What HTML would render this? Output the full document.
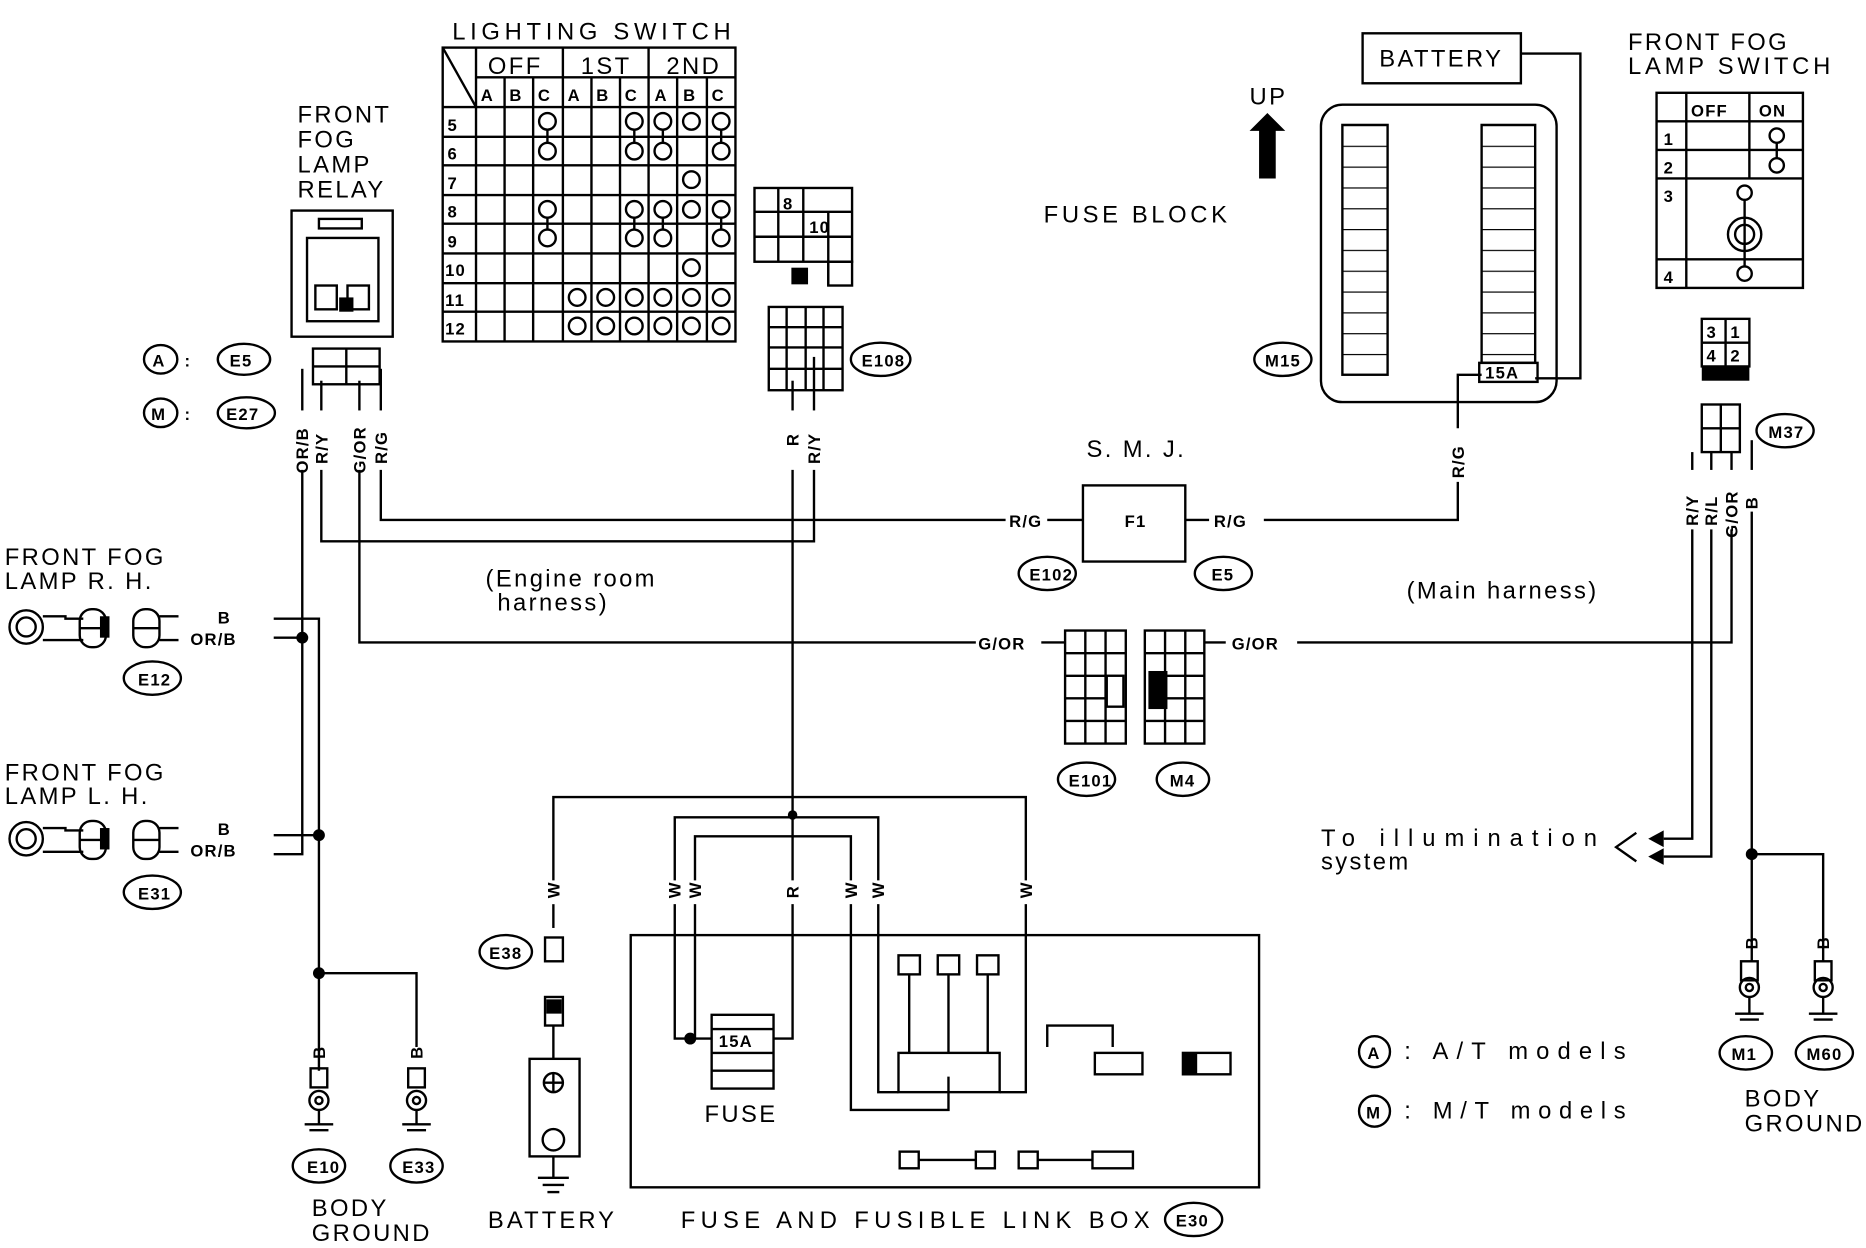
<!DOCTYPE html>
<html><head><meta charset="utf-8"><style>
html,body{margin:0;padding:0;background:#fff;}
svg{display:block}
text{font-family:"Liberation Sans",sans-serif;fill:#000;}
.t{font-size:20px;letter-spacing:2px;}
.s{font-size:14px;letter-spacing:1px;font-weight:bold;}
</style></head><body>
<svg width="1866" height="1248" viewBox="0 0 1568 1049" preserveAspectRatio="none" xmlns="http://www.w3.org/2000/svg">
<defs>
<pattern id="slots" x="0" y="105" width="10" height="17.5" patternUnits="userSpaceOnUse"><line x1="0" y1="0" x2="10" y2="0" stroke="#000" stroke-width="2"/></pattern>
</defs>
<g fill="none" stroke="#000" stroke-width="2">
<!-- Lighting switch table -->
<rect x="372" y="40" width="246" height="247"/>
<line x1="400" y1="40" x2="400" y2="287"/>
<line x1="400" y1="65" x2="618" y2="65"/>
<line x1="372" y1="90" x2="618" y2="90"/>
<line x1="372" y1="40" x2="400" y2="90"/>
<line x1="473" y1="40" x2="473" y2="287"/><line x1="545" y1="40" x2="545" y2="287"/>
<line x1="424" y1="65" x2="424" y2="287"/><line x1="448" y1="65" x2="448" y2="287"/>
<line x1="497" y1="65" x2="497" y2="287"/><line x1="521" y1="65" x2="521" y2="287"/>
<line x1="569" y1="65" x2="569" y2="287"/><line x1="594" y1="65" x2="594" y2="287"/>
<line x1="372" y1="115" x2="618" y2="115"/><line x1="372" y1="139" x2="618" y2="139"/>
<line x1="372" y1="164" x2="618" y2="164"/><line x1="372" y1="188" x2="618" y2="188"/>
<line x1="372" y1="213" x2="618" y2="213"/><line x1="372" y1="238" x2="618" y2="238"/>
<line x1="372" y1="262" x2="618" y2="262"/>
<g>
<circle cx="460" cy="102" r="7"/><circle cx="533" cy="102" r="7"/><circle cx="557" cy="102" r="7"/><circle cx="581" cy="102" r="7"/><circle cx="606" cy="102" r="7"/>
<circle cx="460" cy="127" r="7"/><circle cx="533" cy="127" r="7"/><circle cx="557" cy="127" r="7"/><circle cx="606" cy="127" r="7"/>
<line x1="460" y1="109" x2="460" y2="120"/><line x1="533" y1="109" x2="533" y2="120"/><line x1="557" y1="109" x2="557" y2="120"/><line x1="606" y1="109" x2="606" y2="120"/>
<circle cx="581" cy="151" r="7"/>
<circle cx="460" cy="176" r="7"/><circle cx="533" cy="176" r="7"/><circle cx="557" cy="176" r="7"/><circle cx="581" cy="176" r="7"/><circle cx="606" cy="176" r="7"/>
<circle cx="460" cy="200" r="7"/><circle cx="533" cy="200" r="7"/><circle cx="557" cy="200" r="7"/><circle cx="606" cy="200" r="7"/>
<line x1="460" y1="183" x2="460" y2="193"/><line x1="533" y1="183" x2="533" y2="193"/><line x1="557" y1="183" x2="557" y2="193"/><line x1="606" y1="183" x2="606" y2="193"/>
<circle cx="581" cy="225" r="7"/>
<circle cx="485" cy="250" r="7"/><circle cx="509" cy="250" r="7"/><circle cx="533" cy="250" r="7"/><circle cx="557" cy="250" r="7"/><circle cx="581" cy="250" r="7"/><circle cx="606" cy="250" r="7"/>
<circle cx="485" cy="274" r="7"/><circle cx="509" cy="274" r="7"/><circle cx="533" cy="274" r="7"/><circle cx="557" cy="274" r="7"/><circle cx="581" cy="274" r="7"/><circle cx="606" cy="274" r="7"/>
</g>
<!-- relay -->
<rect x="245" y="177" width="85" height="106"/>
<rect x="268" y="184" width="36" height="8"/>
<rect x="258" y="200" width="60" height="70"/>
<rect x="265" y="240" width="18" height="20"/><rect x="292" y="240" width="18" height="20"/>
<rect x="263" y="293" width="56" height="30"/>
<line x1="291" y1="293" x2="291" y2="323"/><line x1="263" y1="308" x2="319" y2="308"/>
<line x1="254" y1="310" x2="254" y2="345"/><line x1="270" y1="320" x2="270" y2="345"/>
<line x1="302" y1="320" x2="302" y2="345"/><line x1="320" y1="310" x2="320" y2="345"/>
<!-- connector 8/10 -->
<rect x="634" y="158" width="82" height="62"/>
<line x1="634" y1="178" x2="716" y2="178"/><line x1="634" y1="199" x2="716" y2="199"/>
<line x1="654" y1="158" x2="654" y2="220"/><line x1="675" y1="158" x2="675" y2="220"/><line x1="696" y1="178" x2="696" y2="240"/>
<rect x="696" y="220" width="20" height="20"/>
<rect x="646" y="258" width="62" height="70"/>
<line x1="646" y1="275" x2="708" y2="275"/><line x1="646" y1="292" x2="708" y2="292"/><line x1="646" y1="310" x2="708" y2="310"/>
<line x1="661" y1="258" x2="661" y2="328"/><line x1="677" y1="258" x2="677" y2="328"/><line x1="692" y1="258" x2="692" y2="328"/>
<line x1="666" y1="320" x2="666" y2="345"/><line x1="684" y1="300" x2="684" y2="345"/>
<!-- wires -->
<polyline points="320,395 320,437 845,437"/>
<polyline points="880,437 910,437"/>
<rect x="910" y="408" width="86" height="64"/>
<polyline points="996,437 1016,437"/>
<polyline points="1062,437 1225,437 1225,405"/>
<polyline points="1225,360 1225,315 1245,315"/>
<polyline points="270,395 270,455 684,455 684,395"/>
<polyline points="666,395 666,685"/>
<polyline points="302,395 302,540 820,540"/>
<polyline points="875,540 895,540"/>
<rect x="895" y="530" width="51" height="95"/><rect x="930" y="568" width="14" height="26"/>
<line x1="895" y1="549" x2="946" y2="549"/><line x1="895" y1="568" x2="930" y2="568"/><line x1="895" y1="587" x2="930" y2="587"/><line x1="895" y1="606" x2="946" y2="606"/>
<line x1="912" y1="530" x2="912" y2="625"/><line x1="929" y1="530" x2="929" y2="625"/>
<rect x="962" y="530" width="50" height="95"/><rect x="966" y="565" width="14" height="30" fill="#000"/>
<line x1="962" y1="549" x2="1012" y2="549"/><line x1="980" y1="568" x2="1012" y2="568"/><line x1="980" y1="587" x2="1012" y2="587"/><line x1="962" y1="606" x2="1012" y2="606"/>
<line x1="979" y1="530" x2="979" y2="625"/><line x1="996" y1="530" x2="996" y2="625"/>
<polyline points="1012,540 1030,540"/>
<polyline points="1090,540 1455,540 1455,445"/>
<polyline points="254,395 254,718 230,718"/>
<polyline points="230,536 254,536"/>
<polyline points="230,520 268,520 268,900"/>
<polyline points="230,702 268,702"/>
<polyline points="268,818 350,818 350,880"/>
<!-- fog lamps -->
<circle cx="22" cy="527" r="14"/><circle cx="22" cy="527" r="8"/>
<polyline points="36,518 55,518 55,520 70,520"/><line x1="36" y1="538" x2="70" y2="538"/>
<rect x="67" y="512" width="22" height="32" rx="10"/><line x1="67" y1="528" x2="89" y2="528"/>
<rect x="112" y="512" width="22" height="32" rx="10"/><line x1="112" y1="528" x2="134" y2="528"/>
<circle cx="22" cy="705" r="14"/><circle cx="22" cy="705" r="8"/>
<polyline points="36,696 55,696 55,698 70,698"/><line x1="36" y1="716" x2="70" y2="716"/>
<rect x="67" y="690" width="22" height="32" rx="10"/><line x1="67" y1="706" x2="89" y2="706"/>
<rect x="112" y="690" width="22" height="32" rx="10"/><line x1="112" y1="706" x2="134" y2="706"/>
<line x1="134" y1="518" x2="150" y2="518"/><line x1="134" y1="538" x2="150" y2="538"/>
<line x1="134" y1="696" x2="150" y2="696"/><line x1="134" y1="716" x2="150" y2="716"/>
<!-- bottom wiring -->
<polyline points="465,740 465,670 862,670 862,740"/>
<polyline points="567,740 567,687 738,687 738,740"/>
<polyline points="584,740 584,703 715,703 715,740"/>
<line x1="666" y1="685" x2="666" y2="740"/>
<rect x="530" y="786" width="528" height="212"/>
<polyline points="567,760 567,873 598,873"/>
<polyline points="584,760 584,873"/>
<polyline points="666,760 666,873 650,873"/>
<rect x="598" y="853" width="52" height="62"/><line x1="598" y1="865" x2="650" y2="865"/><line x1="598" y1="885" x2="650" y2="885"/><line x1="598" y1="900" x2="650" y2="900"/>
<polyline points="715,760 715,933 797,933 797,905"/>
<polyline points="738,760 738,918 755,918"/>
<polyline points="862,760 862,918 840,918"/>
<rect x="755" y="885" width="85" height="33"/>
<rect x="755" y="803" width="18" height="16"/><rect x="788" y="803" width="18" height="16"/><rect x="821" y="803" width="18" height="16"/>
<line x1="764" y1="819" x2="764" y2="885"/><line x1="797" y1="819" x2="797" y2="885"/><line x1="830" y1="819" x2="830" y2="885"/>
<polyline points="880,880 880,862 935,862 935,880"/><rect x="920" y="885" width="40" height="18"/>
<rect x="994" y="885" width="40" height="18"/>
<rect x="756" y="968" width="16" height="14"/><line x1="772" y1="975" x2="820" y2="975"/><rect x="820" y="968" width="16" height="14"/>
<rect x="856" y="968" width="16" height="14"/><line x1="872" y1="975" x2="918" y2="975"/><rect x="918" y="968" width="34" height="14"/>
<!-- battery -->
<line x1="465" y1="760" x2="465" y2="780"/>
<rect x="458" y="788" width="15" height="20"/>
<rect x="458" y="838" width="15" height="24"/>
<line x1="465" y1="862" x2="465" y2="890"/>
<rect x="445" y="890" width="42" height="82"/>
<circle cx="465" cy="910" r="8"/><line x1="457" y1="910" x2="473" y2="910"/><line x1="465" y1="902" x2="465" y2="918"/><circle cx="465" cy="958" r="9"/>
<line x1="465" y1="972" x2="465" y2="990"/>
<line x1="452" y1="990" x2="478" y2="990"/><line x1="456" y1="996" x2="474" y2="996"/><line x1="460" y1="1002" x2="470" y2="1002"/>
<!-- grounds -->
<g>
<rect x="261" y="898" width="14" height="16"/><circle cx="268" cy="925" r="8"/><circle cx="268" cy="925" r="3"/><line x1="268" y1="933" x2="268" y2="945"/><line x1="256" y1="945" x2="280" y2="945"/><line x1="260" y1="950" x2="276" y2="950"/>
<rect x="343" y="898" width="14" height="16"/><circle cx="350" cy="925" r="8"/><circle cx="350" cy="925" r="3"/><line x1="350" y1="933" x2="350" y2="945"/><line x1="338" y1="945" x2="362" y2="945"/><line x1="342" y1="950" x2="358" y2="950"/>
<rect x="1463" y="808" width="14" height="16"/><circle cx="1470" cy="830" r="8"/><circle cx="1470" cy="830" r="3"/><line x1="1470" y1="838" x2="1470" y2="852"/><line x1="1458" y1="852" x2="1482" y2="852"/><line x1="1462" y1="857" x2="1478" y2="857"/>
<rect x="1525" y="808" width="14" height="16"/><circle cx="1532" cy="830" r="8"/><circle cx="1532" cy="830" r="3"/><line x1="1532" y1="838" x2="1532" y2="852"/><line x1="1520" y1="852" x2="1544" y2="852"/><line x1="1524" y1="857" x2="1540" y2="857"/>
</g>
<!-- right side -->
<rect x="1145" y="28" width="133" height="42"/>
<polyline points="1278,45 1328,45 1328,318 1290,318"/>
<rect x="1110" y="88" width="198" height="250" rx="18"/>
<rect x="1128" y="105" width="38" height="210" fill="url(#slots)"/>
<rect x="1245" y="105" width="45" height="200" fill="url(#slots)"/>
<rect x="1243" y="305" width="49" height="16"/>
<rect x="1392" y="78" width="123" height="164"/>
<line x1="1392" y1="102" x2="1515" y2="102"/><line x1="1417" y1="78" x2="1417" y2="242"/><line x1="1470" y1="78" x2="1470" y2="150"/>
<line x1="1392" y1="126" x2="1515" y2="126"/><line x1="1392" y1="150" x2="1515" y2="150"/><line x1="1392" y1="218" x2="1515" y2="218"/>
<circle cx="1493" cy="114" r="6"/><circle cx="1493" cy="139" r="6"/><line x1="1493" y1="120" x2="1493" y2="133"/>
<circle cx="1466" cy="162" r="6"/><circle cx="1466" cy="197" r="14"/><circle cx="1466" cy="197" r="8"/><circle cx="1466" cy="230" r="6"/>
<line x1="1466" y1="168" x2="1466" y2="224"/>
<rect x="1430" y="268" width="40" height="40"/><line x1="1450" y1="268" x2="1450" y2="308"/><line x1="1430" y1="288" x2="1470" y2="288"/>
<rect x="1430" y="340" width="32" height="40"/><line x1="1446" y1="340" x2="1446" y2="380"/><line x1="1430" y1="360" x2="1462" y2="360"/>
<line x1="1422" y1="380" x2="1422" y2="395"/><line x1="1438" y1="380" x2="1438" y2="395"/><line x1="1455" y1="380" x2="1455" y2="395"/><line x1="1472" y1="370" x2="1472" y2="395"/>
<polyline points="1422,445 1422,705 1398,705"/>
<polyline points="1438,445 1438,720 1398,720"/>
<polyline points="1472,430 1472,808"/>
<polyline points="1472,718 1532,718 1532,808"/>
<polyline points="1375,700 1358,712 1375,724"/>
<!-- ovals -->
<ellipse cx="135" cy="302" rx="14" ry="12"/><ellipse cx="205" cy="302" rx="22" ry="13"/>
<ellipse cx="135" cy="347" rx="14" ry="12"/><ellipse cx="207" cy="347" rx="24" ry="13"/>
<ellipse cx="740" cy="302" rx="25" ry="14"/>
<ellipse cx="128" cy="570" rx="24" ry="14"/><ellipse cx="128" cy="750" rx="24" ry="14"/>
<ellipse cx="880" cy="482" rx="24" ry="14"/><ellipse cx="1028" cy="482" rx="24" ry="14"/>
<ellipse cx="913" cy="655" rx="24" ry="14"/><ellipse cx="994" cy="655" rx="22" ry="14"/>
<ellipse cx="1078" cy="302" rx="24" ry="14"/><ellipse cx="1500" cy="362" rx="24" ry="14"/>
<ellipse cx="425" cy="800" rx="22" ry="14"/>
<ellipse cx="268" cy="980" rx="22" ry="14"/><ellipse cx="350" cy="980" rx="22" ry="14"/>
<ellipse cx="1003" cy="1025" rx="24" ry="14"/>
<ellipse cx="1467" cy="885" rx="22" ry="14"/><ellipse cx="1533" cy="885" rx="24" ry="14"/>
<circle cx="1155" cy="884" r="13"/><circle cx="1155" cy="934" r="13"/>
</g>
<g fill="#000">
<circle cx="254" cy="536" r="5"/><circle cx="268" cy="702" r="5"/><circle cx="268" cy="818" r="5"/>
<circle cx="666" cy="685" r="4"/><circle cx="580" cy="873" r="5"/><circle cx="1472" cy="718" r="5"/>
<rect x="665" y="225" width="14" height="14"/><rect x="994" y="885" width="12" height="18"/>
<rect x="1430" y="308" width="40" height="12"/><rect x="459" y="840" width="13" height="12"/>
<polygon points="1050,110 1065,95 1080,110 1072,110 1072,150 1058,150 1058,110"/>
<polygon points="1398,698 1385,705 1398,712"/><polygon points="1398,713 1385,720 1398,727"/>
<rect x="285" y="250" width="12" height="12"/>
<rect x="84" y="518" width="8" height="18"/><rect x="84" y="696" width="8" height="18"/>
</g>
<!-- text -->
<text x="380" y="33" class="t" textLength="236">LIGHTING SWITCH</text>
<text x="410" y="62" class="t" font-size="17">OFF</text><text x="488" y="62" class="t">1ST</text><text x="560" y="62" class="t">2ND</text>
<g class="s" font-size="16">
<text x="404" y="85">A</text><text x="428" y="85">B</text><text x="452" y="85">C</text><text x="477" y="85">A</text><text x="501" y="85">B</text><text x="525" y="85">C</text><text x="550" y="85">A</text><text x="574" y="85">B</text><text x="598" y="85">C</text>
<text x="376" y="110">5</text><text x="376" y="134">6</text><text x="376" y="159">7</text><text x="376" y="183">8</text><text x="376" y="208">9</text><text x="374" y="232">10</text><text x="374" y="257">11</text><text x="374" y="281">12</text>
</g>
<text x="250" y="103" class="t">FRONT</text><text x="250" y="124" class="t">FOG</text><text x="250" y="145" class="t">LAMP</text><text x="250" y="166" class="t">RELAY</text>
<text x="128" y="308" class="s">A</text><text x="155" y="308" class="s">:</text><text x="193" y="308" class="s">E5</text>
<text x="127" y="353" class="s">M</text><text x="155" y="353" class="s">:</text><text x="190" y="353" class="s">E27</text>
<text x="658" y="176" class="s">8</text><text x="680" y="196" class="s">10</text>
<text x="724" y="308" class="s">E108</text>
<g class="s" font-size="12">
<text transform="translate(259,398) rotate(-90)">OR/B</text>
<text transform="translate(275,390) rotate(-90)">R/Y</text>
<text transform="translate(307,398) rotate(-90)">G/OR</text>
<text transform="translate(325,390) rotate(-90)">R/G</text>
<text transform="translate(671,375) rotate(-90)">R</text>
<text transform="translate(689,390) rotate(-90)">R/Y</text>
<text transform="translate(1230,402) rotate(-90)">R/G</text>
<text transform="translate(1427,442) rotate(-90)">R/Y</text>
<text transform="translate(1443,442) rotate(-90)">R/L</text>
<text transform="translate(1460,452) rotate(-90)">G/OR</text>
<text transform="translate(1477,428) rotate(-90)">B</text>
</g>
<text x="848" y="443" class="s">R/G</text><text x="945" y="443" class="s">F1</text><text x="1020" y="443" class="s">R/G</text>
<text x="913" y="384" class="t" font-size="17">S. M. J.</text>
<text x="865" y="488" class="s">E102</text><text x="1018" y="488" class="s">E5</text>
<text x="822" y="546" class="s">G/OR</text><text x="1035" y="546" class="s">G/OR</text>
<text x="898" y="661" class="s">E101</text><text x="983" y="661" class="s">M4</text>
<text x="408" y="493" class="t" font-size="18">(Engine room</text><text x="418" y="513" class="t" font-size="18">harness)</text>
<text x="1182" y="503" class="t" font-size="18">(Main harness)</text>
<text x="4" y="475" class="t">FRONT FOG</text><text x="4" y="495" class="t">LAMP R. H.</text>
<text x="4" y="656" class="t">FRONT FOG</text><text x="4" y="676" class="t">LAMP L. H.</text>
<text x="183" y="524" class="s" font-size="12">B</text><text x="160" y="542" class="s" font-size="12">OR/B</text>
<text x="183" y="702" class="s" font-size="12">B</text><text x="160" y="720" class="s" font-size="12">OR/B</text>
<text x="116" y="576" class="s">E12</text><text x="116" y="756" class="s">E31</text>
<g class="s" font-size="12">
<text transform="translate(470,755) rotate(-90)">W</text>
<text transform="translate(572,755) rotate(-90)">W</text><text transform="translate(589,755) rotate(-90)">W</text>
<text transform="translate(671,755) rotate(-90)">R</text>
<text transform="translate(720,755) rotate(-90)">W</text><text transform="translate(743,755) rotate(-90)">W</text>
<text transform="translate(867,755) rotate(-90)">W</text>
<text transform="translate(273,890) rotate(-90)">B</text><text transform="translate(355,890) rotate(-90)">B</text>
<text transform="translate(1477,798) rotate(-90)">B</text><text transform="translate(1537,798) rotate(-90)">B</text>
</g>
<text x="411" y="806" class="s">E38</text>
<text x="604" y="880" class="s">15A</text>
<text x="592" y="943" class="t">FUSE</text>
<text x="410" y="1032" class="t" textLength="108">BATTERY</text>
<text x="572" y="1032" class="t" textLength="396">FUSE AND FUSIBLE LINK BOX</text>
<text x="988" y="1031" class="s">E30</text>
<text x="258" y="986" class="s">E10</text><text x="338" y="986" class="s">E33</text>
<text x="262" y="1022" class="t">BODY</text><text x="262" y="1043" class="t">GROUND</text>
<text x="1159" y="56" class="t">BATTERY</text>
<text x="1050" y="88" class="t">UP</text>
<text x="877" y="187" class="t" textLength="156">FUSE BLOCK</text>
<text x="1248" y="318" class="s" font-size="12">15A</text>
<text x="1063" y="308" class="s">M15</text>
<text x="1368" y="42" class="t">FRONT FOG</text><text x="1368" y="62" class="t" textLength="172">LAMP SWITCH</text>
<text x="1421" y="98" class="s" font-size="16">OFF</text><text x="1478" y="98" class="s" font-size="16">ON</text>
<text x="1398" y="122" class="s" font-size="16">1</text><text x="1398" y="146" class="s" font-size="16">2</text><text x="1398" y="170" class="s" font-size="16">3</text><text x="1398" y="238" class="s" font-size="16">4</text>
<text x="1434" y="284" class="s">3</text><text x="1454" y="284" class="s">1</text><text x="1434" y="304" class="s">4</text><text x="1454" y="304" class="s">2</text>
<text x="1486" y="368" class="s">M37</text>
<text x="1110" y="711" class="t" textLength="234">To illumination</text><text x="1110" y="731" class="t">system</text>
<text x="1149" y="890" class="s">A</text><text x="1180" y="890" class="t" textLength="188">:  A/T models</text>
<text x="1148" y="940" class="s">M</text><text x="1180" y="940" class="t" textLength="188">:  M/T models</text>
<text x="1455" y="891" class="s">M1</text><text x="1518" y="891" class="s">M60</text>
<text x="1466" y="930" class="t">BODY</text><text x="1466" y="951" class="t">GROUND</text>
</svg>
</body></html>
